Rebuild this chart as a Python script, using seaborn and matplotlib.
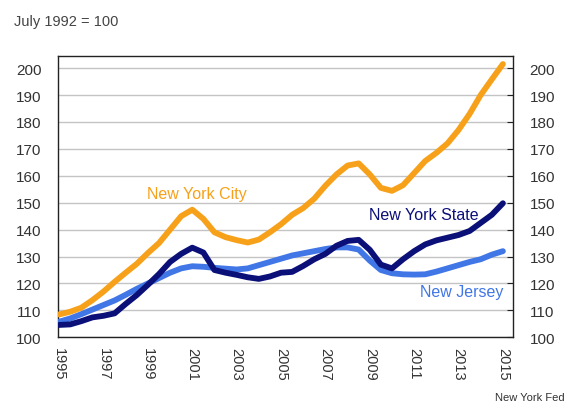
import numpy as np
import pandas as pd
import matplotlib
matplotlib.use("Agg")
import matplotlib.pyplot as plt
import seaborn as sns

# half-year grid 1995.0 .. 2015.0
years = [1995 + 0.5 * i for i in range(41)]

nyc = [108.5, 109.5, 111.0, 113.8, 117.0, 120.6, 124.0, 127.3, 131.3, 135.0,
       140.0, 145.0, 147.4, 144.0, 139.0, 137.2, 136.1, 135.2, 136.3, 139.0,
       142.0, 145.5, 148.0, 151.5, 156.3, 160.5, 163.8, 164.6, 160.5, 155.5,
       154.4, 156.5, 161.0, 165.5, 168.5, 172.0, 177.0, 183.0, 190.0, 195.8,
       201.5]

ny_state = [104.6, 104.8, 106.0, 107.4, 108.0, 108.9, 112.4, 115.7, 119.5, 123.5,
            128.0, 131.0, 133.3, 131.5, 125.0, 124.0, 123.2, 122.3, 121.7, 122.6,
            124.0, 124.3, 126.5, 129.0, 131.0, 134.0, 135.8, 136.2, 132.5, 127.0,
            125.6, 129.0, 132.0, 134.5, 136.0, 137.0, 138.0, 139.5, 142.5, 145.5,
            149.8]

new_jersey = [105.8, 107.0, 108.6, 110.3, 112.0, 113.7, 115.8, 118.0, 120.0, 122.0,
              124.0, 125.6, 126.4, 126.2, 125.8, 125.5, 125.2, 125.6, 126.8, 128.0,
              129.2, 130.4, 131.2, 132.0, 132.8, 133.4, 133.4, 132.6, 128.5, 125.0,
              123.8, 123.4, 123.3, 123.4, 124.4, 125.6, 126.8, 128.0, 129.0, 130.7,
              132.0]

series_names = ["New Jersey", "New York State", "New York City"]
colors = {"New York City": "#F7A11A", "New York State": "#0B0F78", "New Jersey": "#4176E6"}

y_ticks = list(range(100, 201, 10))
x_ticks = list(range(1995, 2016, 2))

df = pd.concat([
    pd.DataFrame({"year": years, "index": new_jersey, "region": "New Jersey"}),
    pd.DataFrame({"year": years, "index": ny_state, "region": "New York State"}),
    pd.DataFrame({"year": years, "index": nyc, "region": "New York City"}),
])

sns.set_style("white")
plt.rcParams['font.family'] = ['Liberation Sans', 'DejaVu Sans']

fig = plt.figure(figsize=(5.7, 4.06), dpi=100)
ax = fig.add_axes([0.1018, 0.1667, 0.798, 0.693])

sns.lineplot(data=df, x="year", y="index", hue="region", hue_order=series_names,
             palette=colors, linewidth=4.2, legend=False, ax=ax, zorder=3)

ax.set_xlim(1994.95, 2015.45)
ax.set_ylim(100, 204.5)
ax.set_yticks(y_ticks)
ax.set_xticks(x_ticks)
ax.set_xticklabels([str(y) for y in x_ticks], rotation=-90)
ax.set_xlabel("")
ax.set_ylabel("")
ax.grid(True, axis='y', color='#c4c4c4', linewidth=1.0, zorder=0)
ax.set_axisbelow(True)

for s in ax.spines.values():
    s.set_color('#222222')
    s.set_linewidth(1.0)

ax.tick_params(axis='x', direction='in', length=4, color='#222222',
               labelsize=10.5, labelcolor='#333333', pad=7)
ax.tick_params(axis='y', direction='in', length=4, color='#222222',
               labelsize=11, labelcolor='#333333', pad=12,
               right=True, labelright=True)

ax.text(2001.2, 153.6, "New York City", color="#F7A11A", fontsize=11.5, ha='center', va='center')
ax.text(2011.45, 145.8, "New York State", color="#0B0F78", fontsize=11.5, ha='center', va='center')
ax.text(2013.16, 117.2, "New Jersey", color="#4176E6", fontsize=11.5, ha='center', va='center')

fig.text(14 / 570, 1 - 22 / 406, "July 1992 = 100", fontsize=10.5, color='#444444',
         ha='left', va='center')
fig.text(565 / 570, 1 - 398 / 406, "New York Fed", fontsize=8, color='#333333',
         ha='right', va='center')

fig.savefig("out.png", dpi=100)
